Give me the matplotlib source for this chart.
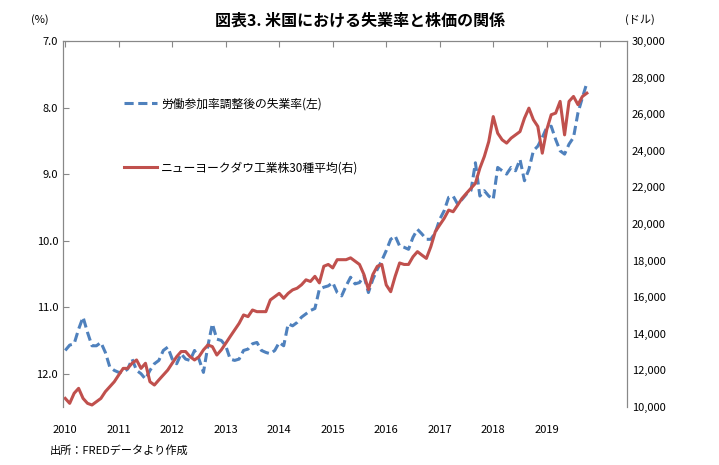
import numpy as np
import matplotlib
matplotlib.use("Agg")
import matplotlib.pyplot as plt

plt.rcParams['font.family'] = ['Noto Sans CJK JP', 'DejaVu Sans']

# monthly data, Jan 2010 - Oct 2019
unemp = [11.65, 11.57, 11.55, 11.33, 11.15, 11.38, 11.58, 11.58, 11.53, 11.68, 11.9, 11.95,
         11.98, 11.98, 11.93, 11.78, 11.95, 12.0, 12.08, 11.95, 11.85, 11.8, 11.65, 11.6,
         11.78, 11.85, 11.7, 11.78, 11.8, 11.65, 11.78, 11.98, 11.58, 11.25, 11.48, 11.5,
         11.58, 11.78, 11.8, 11.78, 11.65, 11.63, 11.55, 11.53, 11.65, 11.68, 11.7, 11.65,
         11.53, 11.58, 11.25, 11.28, 11.23, 11.15, 11.1, 11.05, 11.02, 10.73, 10.7, 10.68,
         10.63, 10.78, 10.83, 10.68, 10.55, 10.65, 10.63, 10.53, 10.78, 10.58, 10.43, 10.3,
         10.15, 9.98, 9.93, 10.08, 10.1, 10.13, 9.95, 9.83, 9.9, 9.98, 9.98, 9.88,
         9.68, 9.55, 9.35, 9.33, 9.45, 9.38, 9.3, 9.25, 8.83, 9.33, 9.25, 9.33,
         9.38, 8.9, 8.95, 9.0, 8.9, 8.95, 8.78, 9.1, 8.93, 8.65, 8.58, 8.45,
         8.3, 8.28, 8.48, 8.65, 8.7, 8.55, 8.45, 8.08, 7.85, 7.63]
dow = [10470, 10200, 10750, 11020, 10470, 10200, 10110, 10290, 10470, 10840, 11110, 11380,
       11750, 12110, 12110, 12390, 12570, 12110, 12390, 11380, 11200, 11480, 11750, 12020,
       12390, 12750, 13030, 13030, 12750, 12570, 12750, 13120, 13390, 13300, 12840, 13120,
       13480, 13850, 14210, 14570, 15030, 14940, 15300, 15210, 15210, 15210, 15850, 16030,
       16210, 15940, 16210, 16400, 16490, 16680, 16950, 16860, 17140, 16780, 17690, 17790,
       17600, 18050, 18050, 18050, 18150, 17970, 17790, 17240, 16420, 17240, 17690, 17790,
       16670, 16300, 17140, 17870, 17790, 17790, 18210, 18490, 18300, 18120, 18760, 19580,
       19950, 20310, 20760, 20670, 21030, 21400, 21680, 21950, 22220, 23050, 23690, 24510,
       25870, 24960, 24600, 24420, 24690, 24870, 25050, 25780, 26330, 25700, 25330, 23870,
       25150, 25970, 26060, 26700, 24870, 26700, 26970, 26520, 26970, 27150]
years = [str(y) for y in range(2010, 2020)]

months = np.arange(len(unemp))
blue = '#4F81BD'
red = '#C0504D'

fig = plt.figure(figsize=(7.19, 4.65), dpi=100)
ax = fig.add_axes([63/719, 1-407/465, (627-63)/719, (407-41)/465])
ax2 = ax.twinx()

l1, = ax.plot(months, unemp, color=blue, lw=2.2, ls=(0, (3, 1.5)), label='労働参加率調整後の失業率(左)')
l2, = ax2.plot(months, dow, color=red, lw=2.2, label='ニューヨークダウ工業株30種平均(右)')

ax.set_ylim(12.5, 7.0)
ax.set_yticks(np.arange(7.0, 12.5, 1.0))
ax.set_yticklabels(['%.1f' % v for v in np.arange(7.0, 12.5, 1.0)])
ax2.set_ylim(10000, 30000)
ax2.set_yticks(range(10000, 30001, 2000))
ax2.set_yticklabels(['{:,}'.format(v) for v in range(10000, 30001, 2000)])
ax.set_xlim(-0.5, 126)
ax.set_xticks(np.arange(0, 121, 12))
ax.set_xticklabels(years + [''])

for a in (ax, ax2):
    a.spines['bottom'].set_visible(False)
    a.spines['left'].set_color('#888888')
    a.spines['right'].set_color('#888888')
    a.spines['top'].set_color('#888888')
ax.tick_params(axis='x', bottom=False, top=True, direction='in', length=4, color='#888888', labelsize=8, pad=13)
ax.tick_params(axis='y', direction='in', length=4, color='#888888', labelsize=8)
ax2.tick_params(axis='y', direction='out', length=0, labelsize=8)

leg = ax.legend(handles=[l1, l2], loc='upper left', bbox_to_anchor=(0.09, 0.875),
                frameon=False, fontsize=8.5, labelspacing=4.3, handlelength=2.8, handletextpad=0.3)

fig.text(360/719, 1-20/465, '図表3. 米国における失業率と株価の関係', ha='center', va='center',
         fontsize=11.5, fontweight='bold')
fig.text(40/719, 1-20/465, '(%)', ha='center', va='center', fontsize=8)
fig.text(640/719, 1-20/465, '(ドル)', ha='center', va='center', fontsize=8)
fig.text(50/719, 1-450/465, '出所：FREDデータより作成', ha='left', va='center', fontsize=8)

fig.savefig('out.png', dpi=100)
